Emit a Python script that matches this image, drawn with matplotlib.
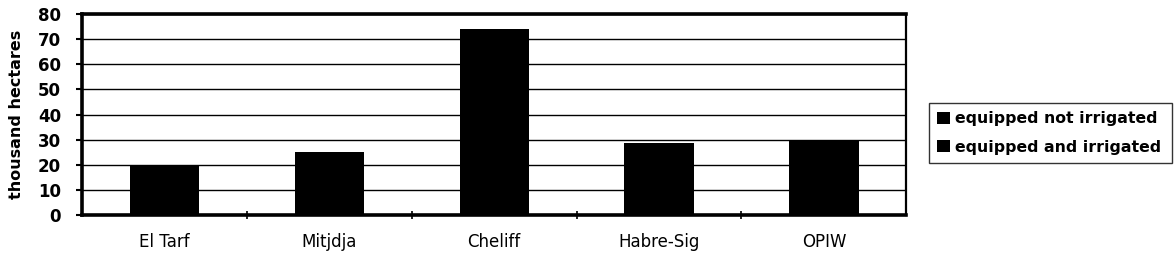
import numpy as np
import matplotlib.pyplot as plt
from matplotlib.ticker import FixedLocator

# perimeters and areas (thousand hectares)
perimeters = ['El Tarf', 'Mitjdja', 'Cheliff', 'Habre-Sig', 'OPIW']
irrigated = [8.0, 10.0, 30.0, 12.0, 13.0]
not_irrigated = [12.0, 15.0, 44.0, 16.5, 17.0]
y_ticks = [0, 10, 20, 30, 40, 50, 60, 70, 80]

fig = plt.figure(figsize=(11.74, 2.57), dpi=100)
ax = fig.add_axes([0.0698, 0.163, 0.7022, 0.7825])

x = np.arange(len(perimeters))
width = 0.42
ax.bar(x, irrigated, width, color='black', label='equipped and irrigated', zorder=3)
ax.bar(x, not_irrigated, width, bottom=irrigated, color='black',
       label='equipped not irrigated', zorder=3)

ax.set_xlim(-0.5, len(perimeters) - 0.5)
ax.set_ylim(0, 80)
ax.set_yticks(y_ticks)
ax.yaxis.grid(True, color='black', linewidth=1.0, zorder=0)

ax.set_xticks(x)
ax.set_xticklabels(perimeters, fontsize=12, family='DejaVu Sans')
ax.tick_params(axis='x', which='major', length=0, pad=13)
ax.xaxis.set_minor_locator(FixedLocator(np.arange(0.5, len(perimeters) - 1, 1.0)))
ax.tick_params(axis='x', which='minor', length=6, width=1.2, direction='inout')
ax.tick_params(axis='y', length=4, width=1.5, direction='out', pad=11,
               labelsize=12)
for lab in ax.get_yticklabels():
    lab.set_fontweight('bold')

ax.set_ylabel('thousand hectares', fontsize=11.5, fontweight='bold', labelpad=10)

for side in ['top', 'left', 'bottom']:
    ax.spines[side].set_linewidth(2.6)
ax.spines['right'].set_linewidth(1.6)

handles, labels = ax.get_legend_handles_labels()
leg = fig.legend(handles[::-1], labels[::-1], loc='center', mode='expand',
                 bbox_to_anchor=(0.791, 0.354, 0.207, 0.257),
                 frameon=True, fancybox=False, edgecolor='black',
                 handlelength=0.8, handleheight=0.8, handletextpad=0.35,
                 borderaxespad=0, borderpad=0.55, labelspacing=0.85,
                 prop={'size': 11.3, 'weight': 'bold'})
leg.get_frame().set_linewidth(1.0)

fig.savefig('out.png', dpi=100, facecolor='w')
